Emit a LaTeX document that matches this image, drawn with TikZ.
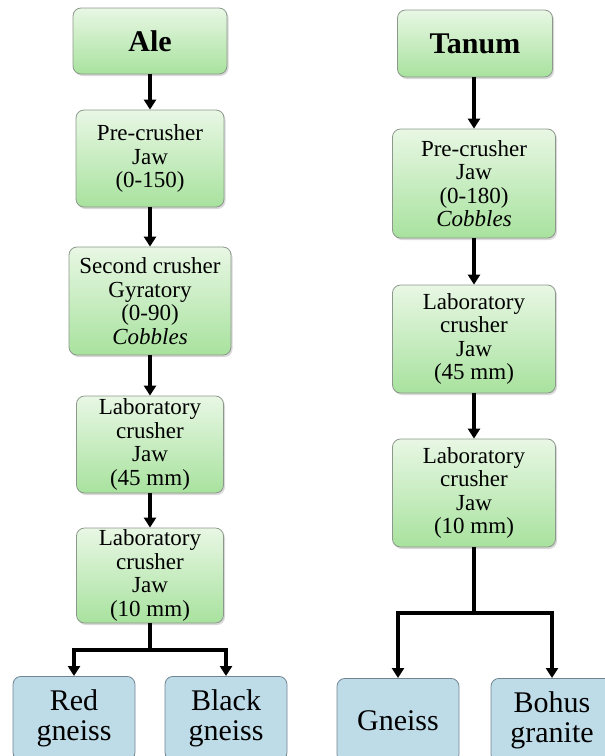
\documentclass[tikz,border=0pt]{standalone}
\usepackage{fontspec}
\setmainfont{Liberation Serif}
\usetikzlibrary{arrows.meta,shadows}
\definecolor{stagetop}{RGB}{232,247,228}
\definecolor{stagebot}{RGB}{168,226,158}
\definecolor{stageline}{RGB}{140,152,140}
\definecolor{rockfill}{RGB}{190,219,232}
\definecolor{rockline}{RGB}{112,132,146}

\begin{document}
\begin{tikzpicture}[x=1pt, y=-1pt,
    stage/.style={rectangle, rounded corners=8pt, draw=stageline, line width=0.8pt,
      top color=stagetop, bottom color=stagebot, align=center, inner sep=1pt,
      font=\fontsize{23}{23.5}\selectfont,
      drop shadow={opacity=0.3, shadow xshift=1.5pt, shadow yshift=-2pt}},
    site/.style={stage, font=\fontsize{30}{32}\selectfont\bfseries},
    rock/.style={rectangle, rounded corners=8pt, draw=rockline, line width=0.8pt,
      fill=rockfill, align=center, inner sep=1pt, anchor=north,
      minimum width=122pt, minimum height=84pt,
      font=\fontsize{30}{30}\selectfont},
    flow/.style={-{Triangle[length=10pt,width=12pt]}, line width=3.2pt}]
  	\def \lx {150};
  	\def \rx {474};
  	\useasboundingbox (0,0) rectangle (605,756);

  	% Ale
  	\node[site, minimum width=154pt, minimum height=66pt](Ale) at (\lx,41) {Ale};
  	\node[stage, minimum width=148pt, minimum height=97pt](PreL) at (\lx,158.5) {Pre-crusher\\Jaw\\(0-150)};
  	\node[stage, minimum width=162pt, minimum height=108pt](SecL) at (\lx,301) {Second crusher\\Gyratory\\(0-90)\\\textit{Cobbles}};
  	\node[stage, minimum width=147pt, minimum height=97pt](LabL1) at (\lx,444.5) {Laboratory\\crusher\\Jaw\\(45 mm)};
  	\node[stage, minimum width=147pt, minimum height=95pt](LabL2) at (\lx,575.5) {Laboratory\\crusher\\Jaw\\(10 mm)};
  	\node[rock](Red) at (74,676) {Red\\gneiss};
  	\node[rock](Black) at (226,676) {Black\\gneiss};
  	\coordinate (SplitL) at (\lx,650);

  	% Tanum
  	\node[site, minimum width=155pt, minimum height=67pt](Tanum) at (475,43.5) {Tanum};
  	\node[stage, minimum width=163pt, minimum height=109pt](PreR) at (\rx,183.5) {Pre-crusher\\Jaw\\(0-180)\\\textit{Cobbles}};
  	\node[stage, minimum width=163pt, minimum height=108pt](LabR1) at (\rx,339) {Laboratory\\crusher\\Jaw\\(45 mm)};
  	\node[stage, minimum width=163pt, minimum height=108pt](LabR2) at (\rx,493) {Laboratory\\crusher\\Jaw\\(10 mm)};
  	\node[rock](Gneiss) at (398,678) {Gneiss};
  	\node[rock](Bohus) at (552,678) {Bohus\\granite};
  	\coordinate (SplitR) at (\rx,613);

  	\draw[flow] (Ale) -- (PreL);
  	\draw[flow] (PreL) -- (SecL);
  	\draw[flow] (SecL) -- (LabL1);
  	\draw[flow] (LabL1) -- (LabL2);
  	\draw[flow] (LabL2.south) -- (SplitL) -| (Red.north);
  	\draw[flow] (LabL2.south) -- (SplitL) -| (Black.north);

  	\draw[flow] (Tanum.south -| PreR.north) -- (PreR);
  	\draw[flow] (PreR) -- (LabR1);
  	\draw[flow] (LabR1) -- (LabR2);
  	\draw[flow] (LabR2.south) -- (SplitR) -| (Gneiss.north);
  	\draw[flow] (LabR2.south) -- (SplitR) -| (Bohus.north);
\end{tikzpicture}
\end{document}
